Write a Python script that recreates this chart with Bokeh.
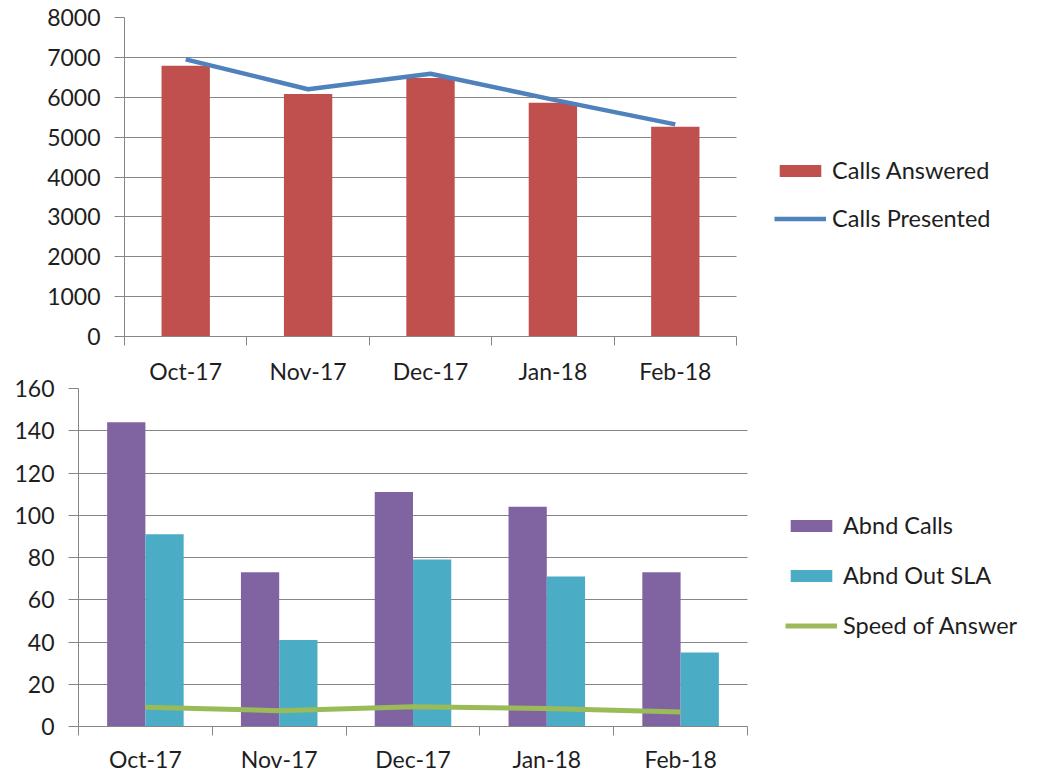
from bokeh.plotting import figure
from bokeh.models import Range1d, FixedTicker, Legend, LegendItem
from bokeh.embed import file_html
from bokeh.resources import INLINE
import numpy as np

months = ["Oct-17", "Nov-17", "Dec-17", "Jan-18", "Feb-18"]
calls_answered = [6790, 6080, 6480, 5860, 5260]
calls_presented = [6950, 6200, 6590, 5940, 5320]
abnd_calls = [144, 73, 111, 104, 73]
abnd_out_sla = [91, 41, 79, 71, 35]
speed_of_answer = [9.1, 7.5, 9.3, 8.5, 6.9]
top_ticks = list(range(0, 8001, 1000))
bottom_ticks = list(range(0, 161, 20))

FONT = "Lato"
FS = "23px"
TXT = "#1e1e1e"
GRID = "#868686"
W = 1044

n = len(months)
xc = np.arange(n) + 0.5
overrides = {float(x): m for x, m in zip(xc, months)}
bounds = list(range(n + 1))


def style(p, yticks, x_standoff):
    p.xgrid.grid_line_color = None
    p.ygrid.grid_line_color = GRID
    p.ygrid.ticker = FixedTicker(ticks=yticks)
    p.ygrid.cross_bounds = (0, n)
    p.outline_line_color = None
    p.background_fill_alpha = 0
    p.border_fill_alpha = 0
    p.xaxis.bounds = (0, n)
    p.xaxis.ticker = FixedTicker(ticks=list(xc), minor_ticks=bounds)
    p.xaxis.major_label_overrides = overrides
    p.xaxis.major_tick_out = 0
    p.xaxis.major_tick_in = 0
    p.xaxis.minor_tick_out = 9
    p.xaxis.minor_tick_in = 0
    p.xaxis.minor_tick_line_color = GRID
    p.xaxis.major_label_standoff = x_standoff
    p.yaxis.ticker = FixedTicker(ticks=yticks)
    p.yaxis.major_tick_out = 10
    p.yaxis.major_tick_in = 0
    p.yaxis.minor_tick_out = 0
    p.yaxis.minor_tick_in = 0
    p.yaxis.major_tick_line_color = GRID
    p.yaxis.major_label_standoff = 14
    for ax in (p.xaxis, p.yaxis):
        ax.axis_line_color = GRID
        ax.major_label_text_font = FONT
        ax.major_label_text_font_size = FS
        ax.major_label_text_color = TXT


def make_legend(items, loc, spacing):
    return Legend(items=items, location=loc, orientation="vertical",
                  glyph_width=52, glyph_height=15, label_standoff=6, spacing=spacing,
                  label_height=20, padding=0, margin=0,
                  label_text_font=FONT, label_text_font_size="23.5px", label_text_color=TXT,
                  border_line_alpha=0, background_fill_alpha=0)


# ---------- top chart (plot area 124..736 px, legend to the right) ----------
left1, right1 = 124, 736
p1 = figure(width=W, height=387,
            x_range=Range1d(0, n * (W - left1) / (right1 - left1)), y_range=Range1d(0, 8000),
            output_backend="svg", toolbar_location=None,
            min_border_left=left1, min_border_right=0, min_border_top=17, min_border_bottom=50)
style(p1, top_ticks, 11)
r_ans = p1.vbar(x=xc, top=calls_answered, width=0.395, bottom=0,
                fill_color="#C0504D", line_color=None)
r_pre = p1.line(x=xc, y=calls_presented, line_color="#4F81BD", line_width=4.5)
leg1 = make_legend([LegendItem(label="Calls Answered", renderers=[r_ans]),
                    LegendItem(label="Calls Presented", renderers=[r_pre])], (650, 104), 20)
p1.add_layout(leg1)

# ---------- bottom chart (plot area 78..747 px) ----------
left2, right2 = 78, 747
p2 = figure(width=W, height=402,
            x_range=Range1d(0, n * (W - left2) / (right2 - left2)), y_range=Range1d(0, 160),
            output_backend="svg", toolbar_location=None,
            min_border_left=left2, min_border_right=0, min_border_top=15, min_border_bottom=48)
style(p2, bottom_ticks, 9)
p2.margin = (-14, 0, 0, 0)
bw = 0.286
r_ab = p2.vbar(x=xc - bw / 2, top=abnd_calls, width=bw, bottom=0,
               fill_color="#8064A2", line_color=None)
r_sla = p2.vbar(x=xc + bw / 2, top=abnd_out_sla, width=bw, bottom=0,
                fill_color="#4BACC6", line_color=None)
r_spd = p2.line(x=xc, y=speed_of_answer, line_color="#9BBB59", line_width=5)
leg2 = make_legend([LegendItem(label="Abnd Calls", renderers=[r_ab]),
                    LegendItem(label="Abnd Out SLA", renderers=[r_sla]),
                    LegendItem(label="Speed of Answer", renderers=[r_spd])], (707, 87), 22)
p2.add_layout(leg2)

open("out.html", "w").write(file_html([p1, p2], INLINE))
